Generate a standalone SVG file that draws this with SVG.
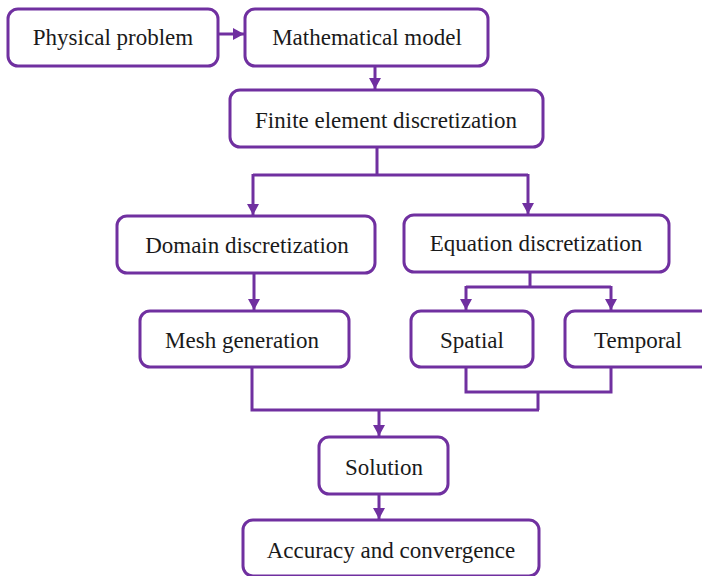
<svg xmlns="http://www.w3.org/2000/svg" width="702" height="576" viewBox="0 0 702 576">
<defs>
<style>
.box{fill:#fff;stroke:#7030A0;stroke-width:3}
.lbl{font-family:"Liberation Serif","Times New Roman",serif;font-size:23px;fill:#1a1a1a;text-anchor:middle}
.con{fill:none;stroke:#7030A0;stroke-width:3}
</style>
<marker id="ah" markerUnits="userSpaceOnUse" markerWidth="14" markerHeight="14" refX="11" refY="6" orient="auto">
<path d="M0,0 L11,6 L0,12 Z" fill="#7030A0"/>
</marker>
</defs>
<rect width="702" height="576" fill="#fff"/>
<g id="connectors">
<path class="con" d="M218,34 H244" marker-end="url(#ah)"/>
<path class="con" d="M375,66 V89" marker-end="url(#ah)"/>
<path class="con" d="M377,147 V175 M253,175 H528"/>
<path class="con" d="M253,174 V215" marker-end="url(#ah)"/>
<path class="con" d="M528,174 V214" marker-end="url(#ah)"/>
<path class="con" d="M254,273 V310" marker-end="url(#ah)"/>
<path class="con" d="M530,272 V287 M466,287 H611"/>
<path class="con" d="M466,286 V310" marker-end="url(#ah)"/>
<path class="con" d="M611,286 V310" marker-end="url(#ah)"/>
<path class="con" d="M466,367 V392 H611 V367 M538,392 V410 M252,367 V410 H539"/>
<path class="con" d="M379,409 V436" marker-end="url(#ah)"/>
<path class="con" d="M379,494 V519" marker-end="url(#ah)"/>
</g>
<g id="physical"><rect class="box" x="8" y="9" width="210" height="57" rx="10"/><text class="lbl" x="113" y="45">Physical problem</text></g>
<g id="mathematical"><rect class="box" x="245" y="9" width="243" height="57" rx="10"/><text class="lbl" x="367" y="45">Mathematical model</text></g>
<g id="finite"><rect class="box" x="230" y="90" width="313" height="57" rx="10"/><text class="lbl" x="386" y="128">Finite element discretization</text></g>
<g id="domain"><rect class="box" x="117" y="216" width="258" height="57" rx="10"/><text class="lbl" x="247" y="253">Domain discretization</text></g>
<g id="equation"><rect class="box" x="404" y="215" width="265" height="57" rx="10"/><text class="lbl" x="536" y="251">Equation discretization</text></g>
<g id="mesh"><rect class="box" x="140" y="311" width="209" height="56" rx="10"/><text class="lbl" x="242" y="348">Mesh generation</text></g>
<g id="spatial"><rect class="box" x="411" y="311" width="122" height="56" rx="10"/><text class="lbl" x="472" y="348">Spatial</text></g>
<g id="temporal"><rect class="box" x="565" y="311" width="146" height="56" rx="10"/><text class="lbl" x="638" y="348">Temporal</text></g>
<g id="solution"><rect class="box" x="319" y="437" width="129" height="57" rx="10"/><text class="lbl" x="384" y="475">Solution</text></g>
<g id="accuracy"><rect class="box" x="243" y="520" width="296" height="56" rx="10"/><text class="lbl" x="391" y="558">Accuracy and convergence</text></g>
</svg>
